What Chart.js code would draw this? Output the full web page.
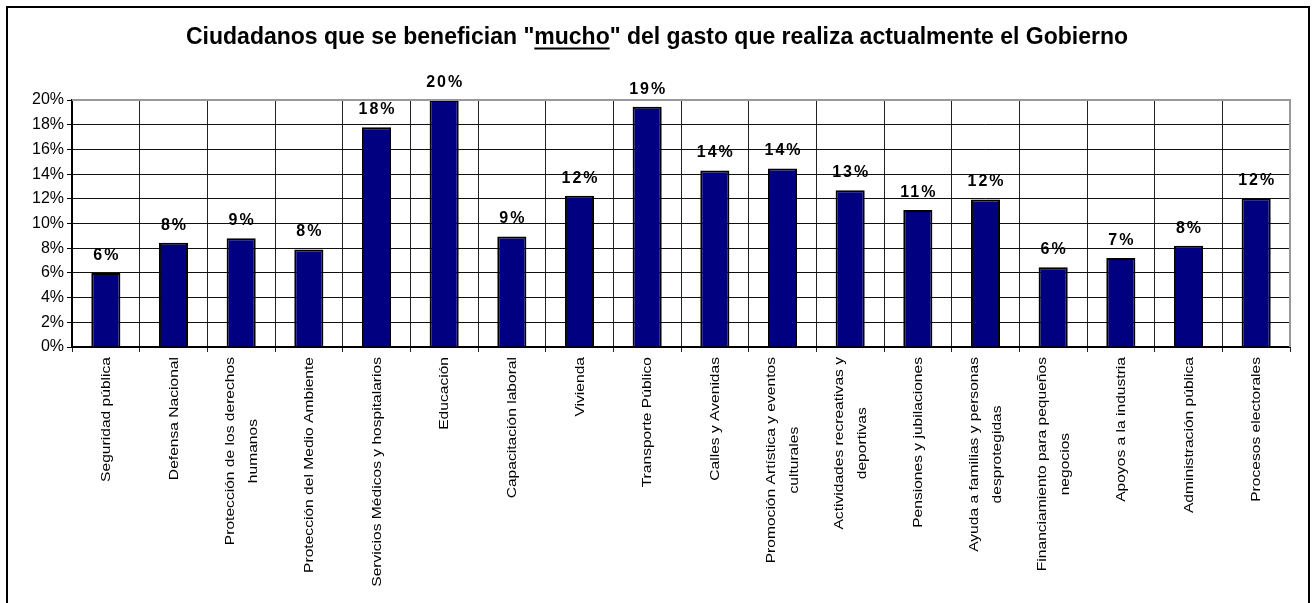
<!DOCTYPE html>
<html>
<head>
<meta charset="utf-8">
<script src="https://cdn.jsdelivr.net/npm/chart.js@4/dist/chart.umd.min.js"></script>
<style>
  html, body { margin: 0; padding: 0; background: #fff; }
  #wrap { position: relative; width: 1312px; height: 603px; }
</style>
</head>
<body>
<div id="wrap"><canvas id="c"></canvas></div>
<script>
// ---- data ----
const titleBefore = 'Ciudadanos que se benefician "';
const titleUnderlined = 'mucho';
const titleAfter = '" del gasto que realiza actualmente el Gobierno';

const categories = [
  ['Seguridad pública'],
  ['Defensa Nacional'],
  ['Protección de los derechos', 'humanos'],
  ['Protección del Medio Ambiente'],
  ['Servicios Médicos y hospitalarios'],
  ['Educación'],
  ['Capacitación laboral'],
  ['Vivienda'],
  ['Transporte Público'],
  ['Calles y Avenidas'],
  ['Promoción Artística y eventos', 'culturales'],
  ['Actividades recreativas y', 'deportivas'],
  ['Pensiones y jubilaciones'],
  ['Ayuda a familias y personas', 'desprotegidas'],
  ['Financiamiento para pequeños', 'negocios'],
  ['Apoyos a la industria'],
  ['Administración pública'],
  ['Procesos electorales']
];

const values = [6.0, 8.45, 8.8, 7.9, 17.8, 20.0, 8.95, 12.25, 19.45, 14.3, 14.45, 12.7, 11.1, 11.95, 6.45, 7.2, 8.2, 12.05];

const yMin = 0, yMax = 20, yStep = 2;

// ---- drawing helpers ----
const FONT = '"Liberation Sans", Arial, Helvetica, sans-serif';

const decorPlugin = {
  id: 'decor',
  beforeDraw(chart) {
    const ctx = chart.ctx;
    ctx.save();
    ctx.fillStyle = '#fff';
    ctx.fillRect(0, 0, chart.width, chart.height);
    ctx.strokeStyle = '#000';
    ctx.lineWidth = 2;
    ctx.strokeRect(7, 7, 1302, 700);
    ctx.restore();
  },
  afterDraw(chart) {
    const ctx = chart.ctx;
    const xs = chart.scales.x, ys = chart.scales.y;
    const area = chart.chartArea;
    ctx.save();

    // gray top and right plot edges
    ctx.strokeStyle = '#999';
    ctx.lineWidth = 2;
    ctx.beginPath();
    ctx.moveTo(area.left, ys.getPixelForValue(yMax));
    ctx.lineTo(area.right, ys.getPixelForValue(yMax));
    ctx.lineTo(area.right, area.bottom);
    ctx.stroke();

    // title
    ctx.fillStyle = '#000';
    ctx.font = 'bold 23px ' + FONT;
    ctx.textBaseline = 'alphabetic';
    ctx.textAlign = 'left';
    const full = titleBefore + titleUnderlined + titleAfter;
    const wFull = ctx.measureText(full).width;
    const x0 = 657 - wFull / 2;
    const baseY = 44;
    ctx.fillText(full, x0, baseY);
    const uStart = x0 + ctx.measureText(titleBefore).width;
    const uW = ctx.measureText(titleUnderlined).width;
    ctx.fillRect(uStart, baseY + 3.5, uW, 2);

    // value labels above bars
    const meta = chart.getDatasetMeta(0);
    ctx.font = 'bold 16px ' + FONT;
    ctx.textAlign = 'center';
    ctx.textBaseline = 'middle';
    try { ctx.letterSpacing = '2px'; } catch (e) {}
    meta.data.forEach((bar, i) => {
      ctx.fillText(Math.round(values[i]) + '%', bar.x + 1, bar.y - 17.5);
    });
    try { ctx.letterSpacing = '0px'; } catch (e) {}

    // rotated category labels
    const stretch = 1.3;
    const lineGap = 23;
    ctx.font = '12px ' + FONT;
    ctx.fillStyle = '#000';
    categories.forEach((lines, i) => {
      const cx = xs.getPixelForValue(i);
      let maxW = 0;
      lines.forEach(l => { maxW = Math.max(maxW, ctx.measureText(l).width * stretch); });
      const cy = area.bottom + 10 + maxW / 2;
      lines.forEach((l, j) => {
        const off = (j - (lines.length - 1) / 2) * lineGap;
        ctx.save();
        ctx.translate(cx + off + 1, cy);
        ctx.rotate(-Math.PI / 2);
        ctx.scale(stretch, 1);
        ctx.textAlign = 'center';
        ctx.textBaseline = 'middle';
        ctx.fillText(l, 0, 0);
        ctx.restore();
      });
    });
    ctx.restore();
  }
};

new Chart(document.getElementById('c'), {
  type: 'bar',
  data: {
    labels: categories.map(c => c.join(' ')),
    datasets: [{
      data: values,
      backgroundColor: '#000080',
      borderColor: '#000',
      borderWidth: 2,
      barPercentage: 0.43,
      categoryPercentage: 1.0
    }]
  },
  options: {
    responsive: true,
    maintainAspectRatio: false,
    animation: false,
    layout: { padding: { left: 0, top: 100, right: 22, bottom: 0 } },
    plugins: {
      legend: { display: false },
      title: { display: false },
      tooltip: { enabled: false }
    },
    scales: {
      x: {
        offset: true,
        grid: { display: true, offset: true, color: '#222', lineWidth: 1, tickLength: 5, tickColor: '#222' },
        border: { display: true, color: '#000', width: 2 },
        ticks: { display: false },
        afterFit(s) { s.height = 256; }
      },
      y: {
        min: yMin,
        max: yMax,
        grid: { color: '#111', lineWidth: 1, tickLength: 5, tickColor: '#000' },
        border: { display: true, color: '#000', width: 2 },
        ticks: {
          stepSize: yStep,
          color: '#000',
          padding: 3,
          font: { family: FONT, size: 16 },
          callback: v => v + '%'
        },
        afterFit(s) { s.width = 72; }
      }
    }
  },
  plugins: [decorPlugin]
});
</script>
</body>
</html>
